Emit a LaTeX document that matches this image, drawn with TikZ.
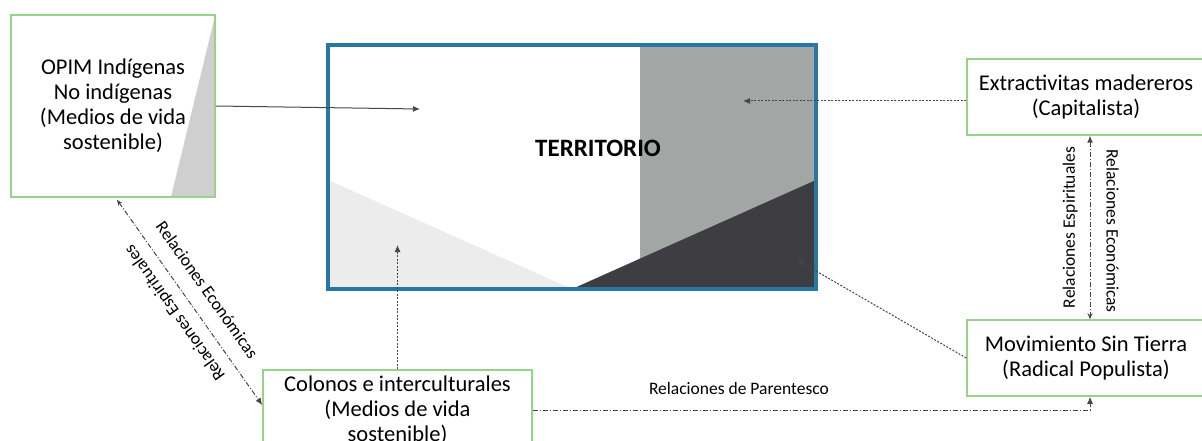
\documentclass[tikz,border=0pt]{standalone}
\usepackage{fontspec}
\setmainfont{Carlito}
\usetikzlibrary{positioning, arrows.meta}

\definecolor{actorgreen}{RGB}{150,210,140}
\definecolor{terrblue}{RGB}{40,118,164}
\definecolor{terrgray}{RGB}{162,166,165}
\definecolor{terrdark}{RGB}{62,61,66}
\definecolor{terrlight}{RGB}{236,236,236}
\definecolor{opimgray}{RGB}{207,207,207}
\definecolor{linkgray}{RGB}{70,70,70}

\tikzset{
  actor/.style={draw=actorgreen, line width=1.5pt, align=center, inner sep=0pt,
    font=\fontsize{22.5}{25}\selectfont},
  rel/.style={inner sep=0pt, font=\fontsize{17.5}{20}\selectfont},
  dotlink/.style={draw=linkgray, line width=1pt, dash pattern=on 2pt off 1.5pt, -{Latex[length=7pt, width=6pt]}},
  rellink/.style={draw=linkgray, line width=1pt, dash pattern=on 5pt off 2pt on 1pt off 2pt},
}

\begin{document}
\begin{tikzpicture}[x=1pt, y=-1pt]
\clip (0,0) rectangle (1202,441);

% patches of the territory
\fill[terrgray] (640,45) rectangle (816,289);
\fill[terrlight] (328,180) -- (572,289) -- (328,289) -- cycle;
\fill[terrdark] (572,289) -- (816,180) -- (816,289) -- cycle;
\fill[opimgray] (214,20) -- (215,197) -- (171,197) -- cycle;

\path
(113,106) node[actor, minimum width=204pt, minimum height=182pt] (opim) {OPIM Indígenas\\ No indígenas\\ (Medios de vida\\ sostenible)}
(572,167) node[draw=terrblue, line width=4pt, minimum width=488pt, minimum height=244pt] (terr) {}
(598,148) node[font=\bfseries\fontsize{25}{30}\selectfont] (terr-label) {TERRITORIO}
(1086,97) node[actor, minimum width=238pt, minimum height=76pt] (ext) {Extractivitas madereros\\ (Capitalista)}
(1086,358) node[actor, minimum width=238pt, minimum height=76pt] (mov) {Movimiento Sin Tierra\\ (Radical Populista)}
(397.5,410) node[actor, minimum width=269pt, minimum height=80pt] (col) {Colonos e interculturales\\ (Medios de vida\\ sostenible)}
(420,109) coordinate (opim-tip)
(743,101) coordinate (ext-tip)
(797,260) coordinate (mov-tip)
(397.5,245) coordinate (col-tip)
;

\coordinate (opim-end) at ([xshift=4pt, yshift=-2pt]opim.south);
\coordinate (col-end) at ([yshift=5pt]col.west);
\coordinate (ext-end) at ([xshift=4pt]ext.south);
\coordinate (mov-end) at ([xshift=4pt]mov.north);
\coordinate (mov-base) at ([xshift=4pt]mov.south);

\draw[linkgray, line width=1pt, -{Latex[length=7pt, width=6pt]}] (opim.east) -- (opim-tip);
\draw[dotlink] (ext-tip -| ext.west) -- (ext-tip);
\draw[dotlink] (mov.west) -- (mov-tip);
\draw[dotlink] (col.north) -- (col-tip);

\draw[rellink, {Stealth[length=6pt, width=5pt]}-{Latex[length=7pt, width=6pt]}]
(opim-end) -- (col-end)
node[rel, midway, sloped, above=15pt] {Relaciones Económicas}
;
\path (col-end) -- (opim-end)
node[rel, midway, sloped, allow upside down, above=10pt] {Relaciones Espirituales}
;

\draw[rellink, {Latex[length=7pt, width=6pt]}-{Stealth[length=6pt, width=5pt]}]
(ext-end) -- (mov-end)
node[rel, pos=0.52, sloped, allow upside down, above=16pt] {Relaciones Económicas}
;
\path (mov-end) -- (ext-end)
node[rel, midway, sloped, allow upside down, above=12pt] {Relaciones Espirituales}
;

\draw[rellink, -{Latex[length=7pt, width=6pt]}]
(col.east) -| (mov-base)
node[rel, pos=0.185, above=15pt] {Relaciones de Parentesco}
;

\end{tikzpicture}
\end{document}
